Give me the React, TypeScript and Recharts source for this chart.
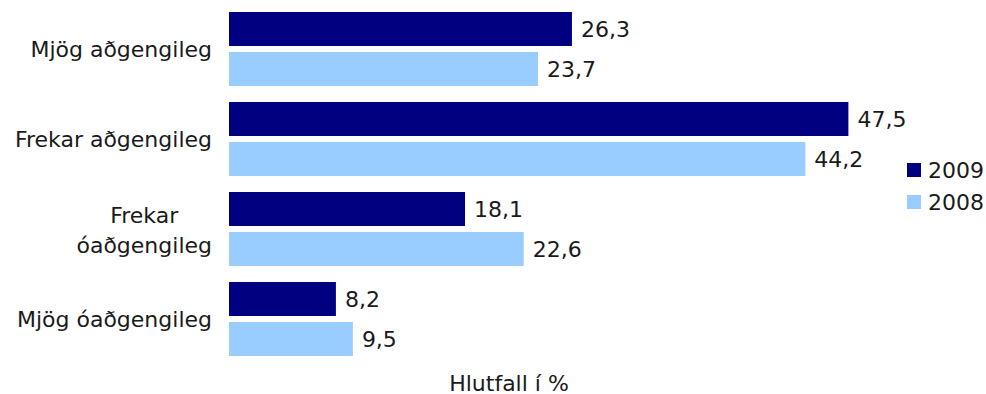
import { BarChart, Bar, XAxis, YAxis, Legend, LabelList } from "recharts";

const categories = [
  "Mjög aðgengileg",
  "Frekar aðgengileg",
  "Frekar\nóaðgengileg",
  "Mjög óaðgengileg",
];
const values2009 = [26.3, 47.5, 18.1, 8.2];
const values2008 = [23.7, 44.2, 22.6, 9.5];
const seriesNames = ["2009", "2008"];
const seriesColors = ["#000080", "#99CCFF"];

const data = categories.map((name, i) => ({
  name,
  y2009: values2009[i],
  y2008: values2008[i],
}));

const FONT = "DejaVu Sans";
const FONT_SIZE = 22;

let ctx: CanvasRenderingContext2D | null = null;
function textWidth(s: string) {
  if (!ctx) ctx = document.createElement("canvas").getContext("2d");
  if (!ctx) return s.length * FONT_SIZE * 0.6;
  ctx.font = `${FONT_SIZE}px "${FONT}"`;
  return ctx.measureText(s).width;
}

function CategoryTick(props: any) {
  const { x, y, payload } = props;
  const lines = String(payload.value).split("\n");
  if (lines.length === 1) {
    return (
      <text x={x} y={y + 8} textAnchor="end" fontSize={FONT_SIZE} fill="#1a1a1a">
        {lines[0]}
      </text>
    );
  }
  const w = Math.max(...lines.map(textWidth));
  const lh = 30;
  const y0 = y + 9 - ((lines.length - 1) * lh) / 2;
  return (
    <text x={x - w / 2} y={y0} textAnchor="middle" fontSize={FONT_SIZE} fill="#1a1a1a">
      {lines.map((l, i) => (
        <tspan key={i} x={x - w / 2} y={y0 + i * lh}>
          {l}
        </tspan>
      ))}
    </text>
  );
}

function LegendBox() {
  return (
    <div style={{ fontSize: FONT_SIZE, color: "#1a1a1a" }}>
      {seriesNames.map((n, i) => (
        <div key={n} style={{ display: "flex", alignItems: "center", height: 32 }}>
          <span
            style={{
              display: "inline-block",
              width: 14,
              height: 14,
              background: seriesColors[i],
              marginRight: 7,
            }}
          />
          {n}
        </div>
      ))}
    </div>
  );
}

const fmt = (v: any) => String(v).replace(".", ",");

export default function App() {
  return (
    <div style={{ position: "absolute", left: 0, top: 0, fontFamily: FONT, background: "#fff" }}>
      <BarChart
        width={986}
        height={394}
        data={data}
        layout="vertical"
        margin={{ top: 4, right: 25, left: 0, bottom: 0 }}
        barCategoryGap={8}
        barGap={6}
      >
        <XAxis
          type="number"
          domain={[0, 50]}
          tick={false}
          axisLine={false}
          tickLine={false}
          height={30}
          label={{
            value: "Hlutfall í %",
            position: "insideBottom",
            offset: 3,
            dx: -46,
            fontSize: FONT_SIZE,
            fill: "#1a1a1a",
          }}
        />
        <YAxis
          type="category"
          dataKey="name"
          width={229}
          axisLine={false}
          tickLine={false}
          tickMargin={11}
          tick={<CategoryTick />}
          interval={0}
        />
        <Legend
          layout="vertical"
          align="right"
          verticalAlign="middle"
          content={<LegendBox />}
          wrapperStyle={{ left: 907, top: 154, width: 80 }}
        />
        <Bar dataKey="y2009" name={seriesNames[0]} fill={seriesColors[0]} isAnimationActive={false}>
          <LabelList
            dataKey="y2009"
            position="right"
            offset={9}
            formatter={fmt}
            fontSize={FONT_SIZE}
            fill="#1a1a1a"
          />
        </Bar>
        <Bar dataKey="y2008" name={seriesNames[1]} fill={seriesColors[1]} isAnimationActive={false}>
          <LabelList
            dataKey="y2008"
            position="right"
            offset={9}
            formatter={fmt}
            fontSize={FONT_SIZE}
            fill="#1a1a1a"
          />
        </Bar>
      </BarChart>
    </div>
  );
}
